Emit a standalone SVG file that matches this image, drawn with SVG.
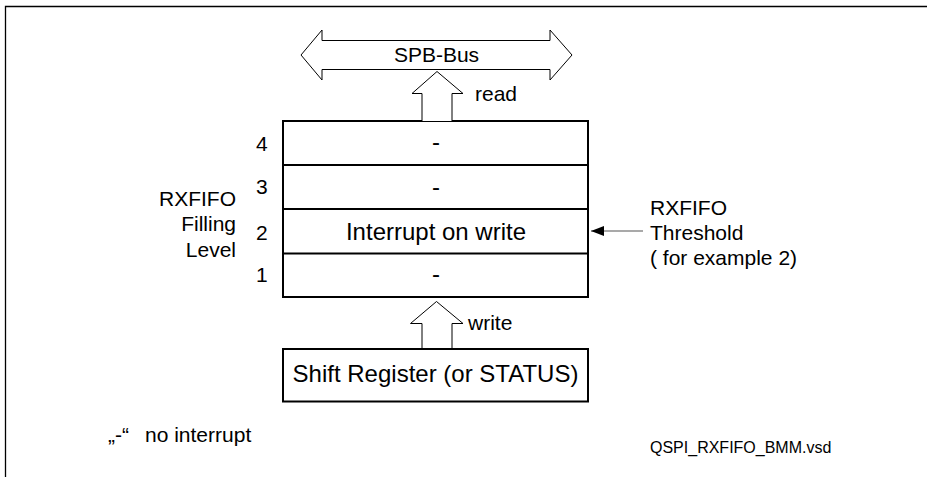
<svg xmlns="http://www.w3.org/2000/svg" width="927" height="477" viewBox="0 0 927 477">
<style>
text{font-family:"Liberation Sans",Arial,sans-serif;fill:#000}
.lbl{font-size:21px}
.row{font-size:24px;text-anchor:middle}
.blk{fill:#fff;stroke:#000;stroke-width:1}
.thick{fill:#fff;stroke:#000;stroke-width:2}
.sep{stroke:#000;stroke-width:2}
</style>
<defs>
<marker id="ah" markerWidth="14" markerHeight="10" refX="13" refY="5" orient="auto" markerUnits="userSpaceOnUse">
<path d="M0,0 L13,5 L0,10 Z" fill="#000"/>
</marker>
</defs>
<path d="M5.5,477 V6.5 H927" fill="none" stroke="#000" stroke-width="1.3"/>
<g id="spb-bus">
<path class="blk" d="M301,55 L322,30 L322,40.5 L550,40.5 L550,30 L572,55 L550,80 L550,69.5 L322,69.5 L322,80 Z"/>
<text class="lbl" x="436.5" y="62" text-anchor="middle">SPB-Bus</text>
</g>
<g id="fifo">
<rect class="thick" x="283" y="121" width="305" height="176"/>
<line class="sep" x1="283" y1="165" x2="588" y2="165"/>
<line class="sep" x1="283" y1="209" x2="588" y2="209"/>
<line class="sep" x1="283" y1="253.5" x2="588" y2="253.5"/>
<text class="row" x="436" y="150">-</text>
<text class="row" x="436" y="195">-</text>
<text class="row" x="436" y="239.5">Interrupt on write</text>
<text class="row" x="436" y="282">-</text>
</g>
<g id="levels">
<text class="lbl" x="256" y="151">4</text>
<text class="lbl" x="256" y="194">3</text>
<text class="lbl" x="256" y="240">2</text>
<text class="lbl" x="256" y="282">1</text>
<text class="lbl" text-anchor="end"><tspan x="236" y="206">RXFIFO</tspan><tspan x="236" y="231">Filling</tspan><tspan x="236" y="256.5">Level</tspan></text>
</g>
<g id="threshold">
<text class="lbl"><tspan x="650" y="215">RXFIFO</tspan><tspan x="650" y="240">Threshold</tspan><tspan x="650" y="265">( for example 2)</tspan></text>
</g>
<g id="shift-register">
<rect class="thick" x="283" y="349" width="305" height="52.5"/>
<text class="row" x="435.5" y="381.5">Shift Register (or STATUS)</text>
</g>
<g id="connectors">
<path class="blk" d="M422,121 L422,93.5 L412,93.5 L437,71.5 L463,93.5 L452,93.5 L452,121"/>
<text class="lbl" x="475" y="100.5">read</text>
<path class="blk" d="M422,348 L422,323.5 L410.5,323.5 L436.5,301.5 L463,323.5 L452,323.5 L452,348"/>
<text class="lbl" x="468" y="329.5">write</text>
<line x1="643" y1="231" x2="591" y2="231" stroke="#555" stroke-width="1.2" marker-end="url(#ah)"/>
</g>
<g id="notes">
<text class="lbl" x="108" y="441.5">„-“<tspan x="145">no interrupt</tspan></text>
<text x="650" y="453" font-size="16">QSPI_RXFIFO_BMM.vsd</text>
</g>
</svg>
